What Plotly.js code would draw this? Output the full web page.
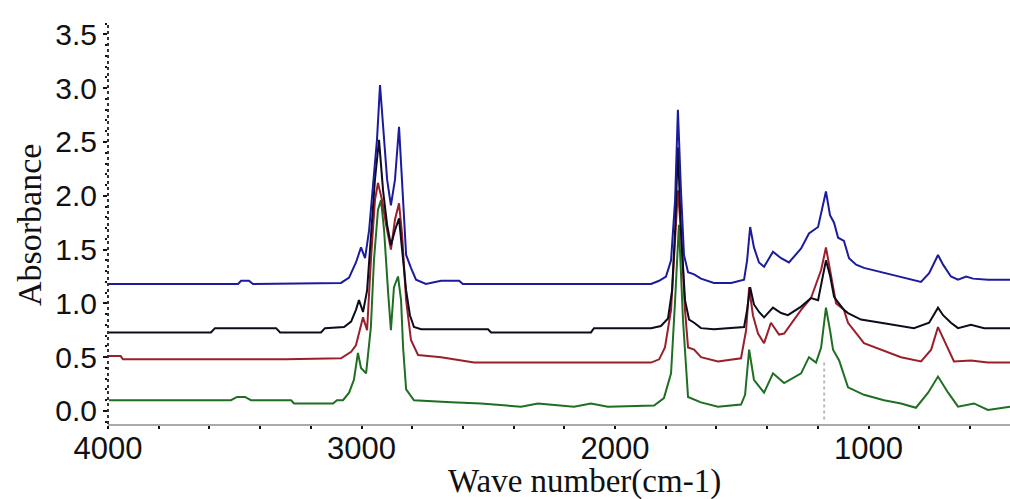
<!DOCTYPE html>
<html>
<head>
<meta charset="utf-8">
<script src="https://cdn.plot.ly/plotly-3.0.1.min.js"></script>
<style>html,body{margin:0;padding:0;background:#fff;}#chart{width:1010px;height:499px;}</style>
</head>
<body>
<div id="chart"></div>
<script>
// Wavenumbers (cm-1) and absorbance values
const blueX = [3996,3487,3475,3444,3428,3081,3049,3022,3002,2986,2970,2955,2939,2927,2915,2899,2884,2868,2852,2840,2824,2805,2785,2746,2686,2615,2600,1858,1826,1799,1779,1763,1752,1740,1728,1712,1688,1661,1610,1542,1491,1479,1467,1452,1432,1412,1377,1345,1314,1266,1235,1199,1184,1168,1152,1136,1120,1097,1077,1049,1018,951,872,793,761,742,726,706,675,647,615,588,529,442];
const blueY = [1.18,1.18,1.21,1.21,1.18,1.19,1.24,1.38,1.52,1.42,1.68,2.10,2.52,3.03,2.61,2.15,1.91,2.15,2.64,2.15,1.45,1.33,1.22,1.18,1.21,1.21,1.18,1.18,1.21,1.25,1.40,1.96,2.80,2.05,1.45,1.29,1.27,1.23,1.19,1.19,1.22,1.40,1.71,1.52,1.38,1.34,1.48,1.42,1.38,1.51,1.65,1.71,1.87,2.04,1.82,1.75,1.61,1.58,1.42,1.36,1.33,1.29,1.25,1.20,1.28,1.38,1.45,1.36,1.25,1.22,1.25,1.23,1.22,1.22];

const blackX = [3996,3594,3578,3337,3321,3160,3144,3069,3041,3022,3010,2994,2978,2963,2947,2931,2915,2899,2884,2868,2852,2840,2824,2809,2793,2765,2501,2489,2095,2083,1858,1819,1791,1775,1763,1752,1740,1724,1708,1688,1661,1610,1491,1479,1467,1452,1432,1412,1377,1345,1318,1266,1227,1199,1184,1168,1152,1136,1120,1097,1081,1030,951,821,761,742,726,706,675,647,596,544,442];
const blackY = [0.73,0.73,0.77,0.77,0.73,0.73,0.77,0.78,0.83,0.94,1.03,0.92,1.12,1.59,2.15,2.52,2.05,1.73,1.54,1.68,1.79,1.50,1.12,0.89,0.78,0.76,0.76,0.73,0.73,0.77,0.77,0.79,0.86,1.12,1.68,2.45,1.68,1.03,0.85,0.82,0.77,0.76,0.78,0.94,1.15,0.99,0.92,0.87,0.96,0.91,0.89,0.97,1.05,1.03,1.22,1.40,1.26,1.06,1.01,0.94,0.91,0.85,0.82,0.77,0.82,0.89,0.96,0.89,0.82,0.77,0.80,0.77,0.77];

const redX = [3996,3950,3941,3300,3081,3041,3022,2994,2978,2963,2947,2935,2919,2903,2884,2868,2852,2840,2824,2805,2777,2686,2556,1858,1826,1803,1779,1763,1752,1740,1724,1712,1688,1661,1594,1503,1483,1471,1456,1436,1412,1385,1353,1333,1266,1227,1187,1168,1148,1128,1097,1081,1018,951,872,793,753,726,686,663,596,529,442];
const redY = [0.51,0.51,0.48,0.48,0.49,0.55,0.61,0.87,0.75,1.40,1.96,2.12,1.96,1.73,1.50,1.78,1.93,1.64,1.03,0.66,0.52,0.50,0.45,0.45,0.48,0.59,0.94,1.59,2.05,1.68,0.94,0.59,0.57,0.50,0.46,0.49,0.75,1.15,0.89,0.72,0.63,0.82,0.71,0.72,0.94,1.05,1.31,1.52,1.25,1.00,0.94,0.82,0.63,0.57,0.50,0.46,0.57,0.78,0.57,0.46,0.47,0.45,0.45];

const greenX = [3996,3515,3491,3460,3436,3278,3266,3112,3097,3073,3049,3030,3014,3002,2982,2963,2951,2935,2923,2911,2895,2884,2872,2856,2844,2836,2824,2793,2647,2529,2371,2304,2162,2095,2028,1846,1807,1779,1763,1748,1732,1720,1712,1661,1594,1503,1487,1471,1452,1412,1377,1333,1266,1235,1207,1187,1168,1152,1140,1116,1081,1018,939,872,813,765,726,686,647,584,529,442];
const greenY = [0.10,0.10,0.13,0.13,0.10,0.10,0.07,0.07,0.10,0.10,0.17,0.29,0.54,0.40,0.35,0.78,1.40,1.87,1.96,1.68,1.10,0.75,1.15,1.25,1.03,0.59,0.20,0.10,0.08,0.07,0.04,0.07,0.04,0.07,0.04,0.05,0.12,0.35,1.03,1.73,0.85,0.38,0.13,0.08,0.04,0.06,0.15,0.57,0.29,0.17,0.35,0.26,0.35,0.50,0.45,0.59,0.96,0.75,0.57,0.47,0.22,0.15,0.10,0.07,0.03,0.17,0.32,0.17,0.04,0.07,0.01,0.04];

// faint dotted guide near the bottom of the 1168 band
const guideX = [1175, 1175];
const guideY = [-0.08, 0.45];

const xTickVals = [4000, 3000, 2000, 1000];
const xTickText = ['4000', '3000', '2000', '1000'];

const colors = {blue:'#1b1b9e', black:'#0c0c1c', red:'#9a1f2c', green:'#1f6e22'};

function line(x, y, c, name) {
  return {x:x, y:y, type:'scatter', mode:'lines', name:name, line:{color:c, width:2}, hoverinfo:'skip'};
}

const data = [
  {x:guideX, y:guideY, type:'scatter', mode:'lines', line:{color:'#bbbbbb', width:2, dash:'dot'}, showlegend:false, hoverinfo:'skip'},
  line(greenX, greenY, colors.green, 'green'),
  line(redX, redY, colors.red, 'red'),
  line(blackX, blackY, colors.black, 'black'),
  line(blueX, blueY, colors.blue, 'blue')
];

const layout = {
  width:1010, height:499,
  margin:{l:108, r:0, t:22, b:75, pad:0},
  paper_bgcolor:'#ffffff', plot_bgcolor:'#ffffff',
  showlegend:false,
  font:{family:'Liberation Sans, Arial, sans-serif', color:'#111'},
  xaxis:{
    range:[4000, 442], autorange:false,
    tickvals:xTickVals, ticktext:xTickText,
    ticks:'outside', ticklen:3, tickwidth:2, tickcolor:'#111',
    ticklabelstandoff:-7,
    minor:{dtick:200, tick0:0, ticks:'outside', ticklen:3, tickwidth:2, tickcolor:'#111'},
    showline:true, linecolor:'#aaaaaa', linewidth:2,
    showgrid:false, zeroline:false,
    tickfont:{family:'Liberation Sans, Arial, sans-serif', size:31, color:'#111'}
  },
  yaxis:{
    range:[-0.121, 3.615], autorange:false,
    tick0:0, dtick:0.5, tickformat:'.1f',
    ticks:'outside', ticklen:4, tickwidth:2, tickcolor:'#111',
    minor:{dtick:0.1, ticks:'outside', ticklen:2, tickwidth:2, tickcolor:'#111'},
    showline:false, showgrid:false, zeroline:false,
    tickfont:{family:'Liberation Sans, Arial, sans-serif', size:30, color:'#111'}
  },
  shapes:[
    {type:'line', xref:'paper', yref:'paper', x0:0, x1:0, y0:0, y1:1,
     line:{color:'#333333', width:2, dash:'dot'}}
  ],
  annotations:[
    {text:'Wave number(cm-1)', xref:'paper', yref:'paper', x:0.528, y:-0.142,
     xanchor:'center', yanchor:'middle', showarrow:false,
     font:{family:'Liberation Serif, Times New Roman, serif', size:33, color:'#111'}},
    {text:'Absorbance', xref:'paper', yref:'paper', x:-0.0876, y:0.495, textangle:-90,
     xanchor:'center', yanchor:'middle', showarrow:false,
     font:{family:'Liberation Serif, Times New Roman, serif', size:34, color:'#111'}}
  ]
};

Plotly.newPlot('chart', data, layout, {staticPlot:true, displayModeBar:false});
</script>
</body>
</html>
